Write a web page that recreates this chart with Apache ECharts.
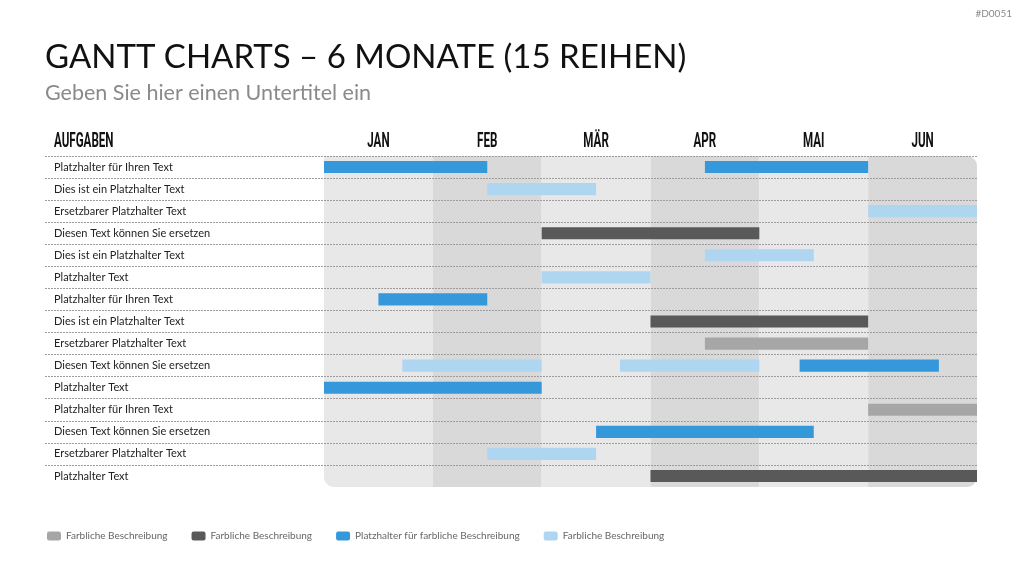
<!DOCTYPE html>
<html>
<head>
<meta charset="utf-8">
<script src="https://cdn.jsdelivr.net/npm/echarts@6/dist/echarts.min.js"></script>
<style>
  html, body { margin: 0; padding: 0; background: #fff; }
  #chart { width: 1024px; height: 576px; }
</style>
</head>
<body>
<div id="chart"></div>
<script>
// Aufgaben (Zeilen von oben nach unten)
const tasks = [
  'Platzhalter für Ihren Text',
  'Dies ist ein Platzhalter Text',
  'Ersetzbarer Platzhalter Text',
  'Diesen Text können Sie ersetzen',
  'Dies ist ein Platzhalter Text',
  'Platzhalter Text',
  'Platzhalter für Ihren Text',
  'Dies ist ein Platzhalter Text',
  'Ersetzbarer Platzhalter Text',
  'Diesen Text können Sie ersetzen',
  'Platzhalter Text',
  'Platzhalter für Ihren Text',
  'Diesen Text können Sie ersetzen',
  'Ersetzbarer Platzhalter Text',
  'Platzhalter Text'
]
const months = ['JAN', 'FEB', 'MÄR', 'APR', 'MAI', 'JUN']

// Balken: [Zeile, Start, Ende] in Monaten (0 = Anfang Januar)
const grayBars = [[8, 3.5, 5], [11, 5, 6]]
const darkBars = [[3, 2, 4], [7, 3, 5], [14, 3, 6]]
const blueBars = [[0, 0, 1.5], [0, 3.5, 5], [6, 0.5, 1.5], [9, 4.37, 5.65], [10, 0, 2], [12, 2.5, 4.5]]
const lightBars = [[1, 1.5, 2.5], [2, 5, 6], [4, 3.5, 4.5], [5, 2, 3], [9, 0.72, 2], [9, 2.72, 4], [13, 1.5, 2.5]]

const legendNames = {
  gray: 'Farbliche Beschreibung',
  dark: 'Farbliche Beschreibung',
  blue: 'Platzhalter für farbliche Beschreibung',
  light: 'Farbliche Beschreibung'
}

const textFont = "Lato, 'Open Sans', sans-serif"
const headFont = "Roboto, 'DejaVu Sans', sans-serif"
const gridLeft = 324
const gridTop = 156
const gridHeight = 331
const gridRight = 47

const chart = echarts.init(document.getElementById('chart'))

const renderBar = (params, api) => {
  const row = api.value(0)
  const p0 = api.coord([api.value(1), row])
  const p1 = api.coord([api.value(2), row])
  const h = api.size([0, 1])[1] * 0.55
  return {
    type: 'rect',
    shape: { x: p0[0], y: p0[1] - h / 2, width: p1[0] - p0[0], height: h },
    style: api.style()
  }
}

const barSeries = (name, data, color) => ({
  name,
  type: 'custom',
  xAxisIndex: 2,
  yAxisIndex: 1,
  z: 3,
  renderItem: renderBar,
  encode: { x: [1, 2], y: 0 },
  itemStyle: { color },
  data
})

// Trennlinien: letzte Grenze unten ohne Linie
const lineColors = tasks.map(() => '#9d9d9d').concat(['transparent'])

const option = {
  animation: false,
  title: [
    {
      text: 'GANTT CHARTS – 6 MONATE (15 REIHEN)',
      left: 40, top: 36,
      textStyle: { fontFamily: textFont, fontWeight: 'normal', fontSize: 33, color: '#111' }
    },
    {
      text: 'Geben Sie hier einen Untertitel ein',
      left: 40, top: 77,
      textStyle: { fontFamily: textFont, fontWeight: 'normal', fontSize: 21.5, color: '#8a8a8a' }
    },
    {
      text: '#D0051',
      right: 7, top: 4,
      textStyle: { fontFamily: textFont, fontWeight: 'normal', fontSize: 10, color: '#8a8a8a' }
    }
  ],
  legend: {
    left: 42, top: 526,
    icon: 'roundRect',
    itemWidth: 14, itemHeight: 9, itemGap: 24,
    textStyle: { fontFamily: textFont, fontSize: 10, color: '#666' },
    formatter: (name) => legendNames[name],
    data: ['gray', 'dark', 'blue', 'light']
  },
  grid: [
    { left: 45, right: gridRight, top: gridTop, height: gridHeight },
    { left: gridLeft, right: gridRight, top: gridTop, height: gridHeight }
  ],
  xAxis: [
    { type: 'value', gridIndex: 0, show: false },
    {
      type: 'category', gridIndex: 1, position: 'top', data: months,
      axisLine: { show: false }, axisTick: { show: false }, axisLabel: { show: false },
      splitLine: { show: false },
      splitArea: { show: true, interval: 0, areaStyle: { color: ['#e8e8e8', '#d9d9d9'] } }
    },
    { type: 'value', gridIndex: 1, min: 0, max: 6, show: false }
  ],
  yAxis: [
    {
      type: 'category', gridIndex: 0, data: tasks, inverse: true, z: 5,
      axisLine: { show: false }, axisTick: { show: false },
      axisLabel: { inside: true, margin: 9, fontFamily: textFont, fontSize: 11, color: '#222', padding: [2, 0, 0, 0] },
      splitLine: { show: true, interval: 0, lineStyle: { color: lineColors, type: [2, 1], width: 1 } }
    },
    { type: 'category', gridIndex: 1, data: tasks, inverse: true, show: false }
  ],
  series: [
    barSeries('gray', grayBars, '#a6a6a6'),
    barSeries('dark', darkBars, '#595959'),
    barSeries('blue', blueBars, '#3498db'),
    barSeries('light', lightBars, '#aed6f1')
  ]
}

chart.setOption(option)

// Kopfzeile (schmale Schrift) und abgerundete Ecken des Feldes
const headerY = gridTop - 14
const headText = (text, x, align) => ({
  type: 'text', x, y: headerY, scaleX: 0.58,
  style: { text, font: 'bold 20px ' + headFont, fill: '#111', align, verticalAlign: 'middle' }
})
const monthHeads = months.map((m, i) =>
  headText(m, chart.convertToPixel({ xAxisIndex: 2 }, i + 0.5), 'center'))

const x0 = chart.convertToPixel({ xAxisIndex: 2 }, 0)
const x1 = chart.convertToPixel({ xAxisIndex: 2 }, 6)
const y1 = gridTop + gridHeight
const r = 10
const corner = (cx, cy, sx, sy) => {
  const ox = cx + sx * r
  const oy = cy + sy * r
  const pts = [[cx, cy]]
  for (let k = 0; k <= 8; k++) {
    const t = (Math.PI / 2) * (k / 8)
    pts.push([ox - sx * r * Math.sin(t), oy - sy * r * Math.cos(t)])
  }
  return { type: 'polygon', z: 1, silent: true, shape: { points: pts }, style: { fill: '#fff' } }
}

chart.setOption({
  graphic: [
    headText('AUFGABEN', 54, 'left'),
    ...monthHeads,
    corner(x1, gridTop, -1, 1),
    corner(x0, y1, 1, -1),
    corner(x1, y1, -1, -1)
  ]
})
window.addEventListener('resize', () => chart.resize())
</script>
</body>
</html>
